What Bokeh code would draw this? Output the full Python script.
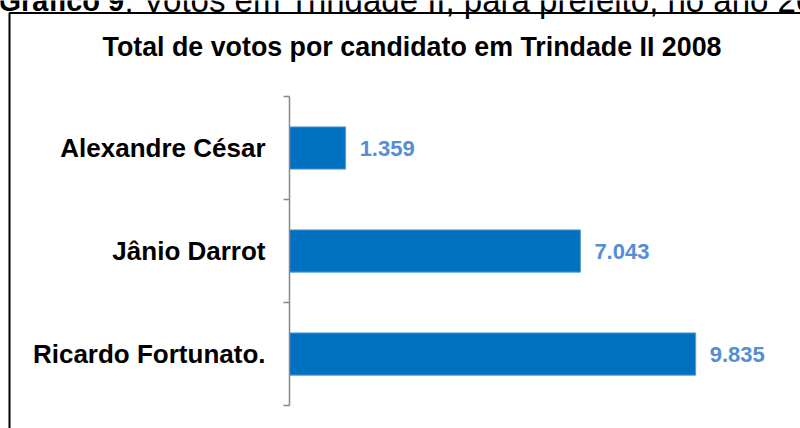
from bokeh.plotting import figure
from bokeh.models import Range1d, FixedTicker, Label, BoxAnnotation
from bokeh.embed import file_html
from bokeh.resources import INLINE
from bokeh.core.properties import value

# ---- data ----
candidates = ["Ricardo Fortunato.", "Jânio Darrot", "Alexandre César"]  # bottom -> top
votes = [9835, 7043, 1359]
vote_labels = ["9.835", "7.043", "1.359"]
chart_title = "Total de votos por candidato em Trindade II 2008"
caption_bold = "Gráfico 9"
caption_rest = ": Votos em Trindade II, para prefeito, no ano 2008"

centers = [i + 0.5 for i in range(len(candidates))]

FONT = "Liberation Sans"
W, H = 800, 428

p = figure(width=W, height=H, output_backend="svg", toolbar_location=None,
           x_range=Range1d(-6998, 12373), y_range=Range1d(-0.223, 3.932),
           x_axis_location=None, min_border=0, outline_line_color=None,
           background_fill_color="white", border_fill_color="white")
p.grid.visible = False

# outer box (left & top edges visible, rest beyond the view)
p.add_layout(BoxAnnotation(left=9, right=3000, top=H - 12.5, bottom=-200,
                           left_units="screen", right_units="screen",
                           top_units="screen", bottom_units="screen",
                           fill_color=None, fill_alpha=0,
                           line_color="black", line_alpha=1.0, line_width=2))

p.hbar(y=centers, left=0, right=votes, height=0.41,
       fill_color="#0070C0", line_color="#5B9BD5", line_width=1)

p.text(x=votes, y=centers, text=vote_labels, x_offset=14,
       text_baseline="middle", text_align="left",
       text_font=value(FONT), text_font_style="bold",
       text_font_size="22px", text_color="#558ED5")

ax = p.yaxis[0]
ax.fixed_location = 0
ax.bounds = (0, len(candidates))
ax.ticker = FixedTicker(ticks=centers, minor_ticks=list(range(len(candidates) + 1)))
ax.major_label_overrides = {c: n for c, n in zip(centers, candidates)}
ax.major_tick_out = 0
ax.major_tick_in = 0
ax.minor_tick_out = 6
ax.minor_tick_in = 0
ax.minor_tick_line_color = "#888888"
ax.minor_tick_line_width = 1.5
ax.axis_line_color = "#888888"
ax.axis_line_width = 1.5
ax.major_label_standoff = 18
ax.major_label_text_font = FONT
ax.major_label_text_font_style = "bold"
ax.major_label_text_font_size = "26px"
ax.major_label_text_color = "black"

p.add_layout(Label(x=411.5, y=H - 46, x_units="screen", y_units="screen",
                   text=chart_title, text_align="center", text_baseline="middle",
                   text_font=FONT, text_font_style="bold", text_font_size="26.8px",
                   text_color="black"))

# document caption above the box (cut off at the top of the view, as in the source)
p.add_layout(Label(x=-2, y=H, x_units="screen", y_units="screen",
                   text=caption_bold, text_align="left", text_baseline="alphabetic",
                   text_font=FONT, text_font_style="bold", text_font_size="29px",
                   text_color="black"))
p.add_layout(Label(x=124, y=H, x_units="screen", y_units="screen",
                   text=caption_rest, text_align="left", text_baseline="alphabetic",
                   text_font=FONT, text_font_style="normal", text_font_size="33px",
                   text_color="black"))

open("out.html", "w").write(file_html(p, INLINE))
